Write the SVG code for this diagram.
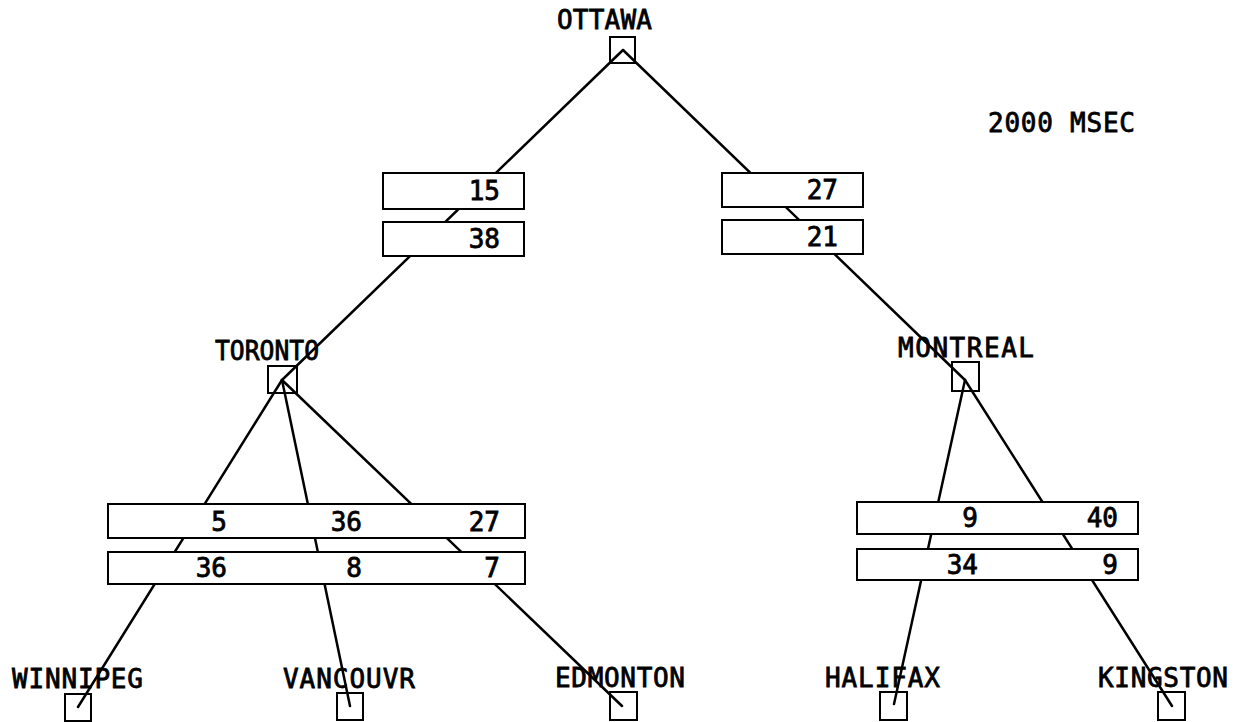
<svg xmlns="http://www.w3.org/2000/svg" width="1243" height="722" viewBox="0 0 1243 722">
<style>
.edge{stroke:#000;stroke-width:2.5;fill:none;stroke-linecap:round}
.node{fill:none;stroke:#000;stroke-width:2}
.cell{fill:#fff;stroke:#000;stroke-width:2}
.lbl{font-family:"DejaVu Sans Mono","Liberation Mono",monospace;font-size:26px;fill:#000;stroke:#000;stroke-width:0.8}
.num{font-family:"DejaVu Sans Mono","Liberation Mono",monospace;font-size:26px;fill:#000;stroke:#000;stroke-width:0.8;text-anchor:end}
</style>
<rect width="1243" height="722" fill="#fff"/>
<g id="connectors" class="edge">
<line x1="623" y1="50" x2="282" y2="380"/>
<line x1="623" y1="50" x2="965" y2="380"/>
<line x1="282" y1="380" x2="78" y2="707"/>
<line x1="282" y1="380" x2="350" y2="706"/>
<line x1="282" y1="380" x2="622" y2="706"/>
<line x1="965" y1="380" x2="894" y2="704"/>
<line x1="965" y1="380" x2="1172" y2="706"/>
</g>
<g id="weights-ottawa-toronto">
<rect class="cell" x="383" y="173" width="141" height="36"/>
<text class="num" x="500" y="200">15</text>
<rect class="cell" x="383" y="222" width="141" height="34"/>
<text class="num" x="500" y="248">38</text>
</g>
<g id="weights-ottawa-montreal">
<rect class="cell" x="722" y="173" width="141" height="34"/>
<text class="num" x="838" y="199">27</text>
<rect class="cell" x="722" y="220" width="141" height="34"/>
<text class="num" x="838" y="246">21</text>
</g>
<g id="weights-toronto">
<rect class="cell" x="108" y="504" width="417" height="34"/>
<text class="num" x="227" y="531">5</text>
<text class="num" x="362" y="531">36</text>
<text class="num" x="500" y="531">27</text>
<rect class="cell" x="108" y="552" width="417" height="32"/>
<text class="num" x="227" y="577">36</text>
<text class="num" x="362" y="577">8</text>
<text class="num" x="500" y="577">7</text>
</g>
<g id="weights-montreal">
<rect class="cell" x="857" y="502" width="281" height="32"/>
<text class="num" x="978" y="527">9</text>
<text class="num" x="1118" y="527">40</text>
<rect class="cell" x="857" y="549" width="281" height="31"/>
<text class="num" x="978" y="574">34</text>
<text class="num" x="1118" y="574">9</text>
</g>
<g id="node-ottawa">
<rect class="node" x="610" y="37" width="25" height="26"/>
<text class="lbl" x="557" y="29" textLength="95" lengthAdjust="spacing">OTTAWA</text>
</g>
<g id="node-toronto">
<rect class="node" x="268" y="366" width="29" height="27"/>
<text class="lbl" x="215" y="360" textLength="104" lengthAdjust="spacingAndGlyphs">TORONTO</text>
</g>
<g id="node-montreal">
<rect class="node" x="952" y="362" width="27" height="29"/>
<text class="lbl" x="898" y="357" textLength="136" lengthAdjust="spacing">MONTREAL</text>
</g>
<g id="node-winnipeg">
<rect class="node" x="65" y="694" width="26" height="27"/>
<text class="lbl" x="12" y="688" textLength="131" lengthAdjust="spacing">WINNIPEG</text>
</g>
<g id="node-vancouvr">
<rect class="node" x="337" y="693" width="26" height="27"/>
<text class="lbl" x="283" y="688" textLength="132" lengthAdjust="spacing">VANCOUVR</text>
</g>
<g id="node-edmonton">
<rect class="node" x="610" y="692" width="27" height="28"/>
<text class="lbl" x="555" y="687" textLength="130" lengthAdjust="spacing">EDMONTON</text>
</g>
<g id="node-halifax">
<rect class="node" x="880" y="692" width="27" height="28"/>
<text class="lbl" x="825" y="687" textLength="115" lengthAdjust="spacing">HALIFAX</text>
</g>
<g id="node-kingston">
<rect class="node" x="1158" y="692" width="27" height="28"/>
<text class="lbl" x="1098" y="687" textLength="130" lengthAdjust="spacing">KINGSTON</text>
</g>
<g id="title">
<text class="lbl" x="988" y="132" textLength="147" lengthAdjust="spacing">2000 MSEC</text>
</g>
</svg>
